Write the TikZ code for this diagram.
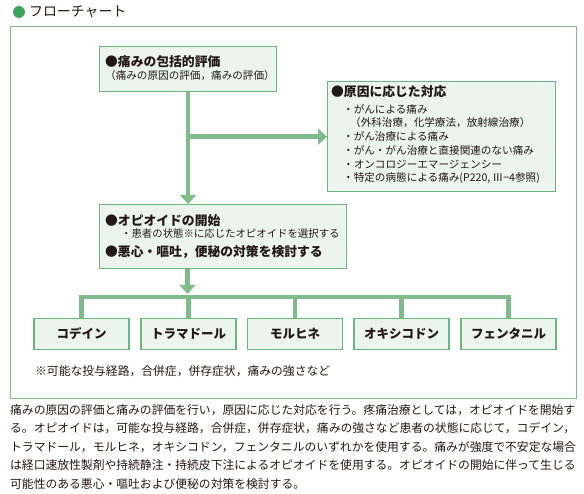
\documentclass[tikz,border=0pt]{standalone}
\usepackage{fontspec}
\setmainfont{Noto Sans CJK JP}
\usetikzlibrary{arrows.meta}
\definecolor{lgreen}{HTML}{80BC8B}
\definecolor{bgreen}{HTML}{6AB57B}
\definecolor{fgreen}{HTML}{EBF4ED}
\definecolor{dgreen}{HTML}{3FA45C}
\definecolor{ink}{HTML}{231815}
\newcommand{\fs}[1]{\fontsize{#1}{#1}\selectfont}

\begin{document}
\begin{tikzpicture}[x=1pt,y=-1pt,line width=.35pt,text=ink,
  box/.style={draw=bgreen,fill=fgreen,line width=1.3pt,inner sep=0pt},
  flow/.style={draw=lgreen,line width=4.5pt},
  tip/.style={-{Triangle[width=16pt,length=9pt]}},
  head/.style={anchor=west,inner sep=0pt,font=\fs{12.8}\bfseries},
  sub/.style={anchor=west,inner sep=0pt,font=\fs{10.6}},
  drug/.style={box,minimum width=95pt,minimum height=31pt,font=\fs{12.5}\bfseries},
  body/.style={anchor=west,inner sep=0pt,font=\fs{11.8}}]
\useasboundingbox (0,0) rectangle (584,494);
\node[circle,fill=dgreen,minimum size=12pt,inner sep=0pt] (dot) at (19,12) {};
\node[anchor=west,inner sep=0pt,font=\fs{13.9}] (title) at (29,12) {フローチャート};
\draw[lgreen,line width=1pt] (10,27) rectangle (576,399);
% boxes
\node[box,anchor=north west,minimum width=177pt,minimum height=45pt] (eval) at (99,46) {};
\node[box,anchor=north west,minimum width=228pt,minimum height=110pt] (cause) at (327,81) {};
\node[box,anchor=north west,minimum width=247pt,minimum height=64pt] (opioid) at (99,204) {};
\node[drug] (codeine) at (81.5,334) {コデイン};
\node[drug] (tramadol) at (188.5,334) {トラマドール};
\node[drug] (morphine) at (295,334) {モルヒネ};
\node[drug] (oxycodone) at (401.5,334) {オキシコドン};
\node[drug] (fentanyl) at (508.5,334) {フェンタニル};
% box texts
\node[head] (evalhead) at (105,62) {●痛みの包括的評価};
\node[sub] (evalsub) at (105,75.5) {（痛みの原因の評価，痛みの評価）};
\node[head] (causehead) at (331,92) {●原因に応じた対応};
\node[sub] (cause1) at (343,109) {・がんによる痛み};
\node[sub] (cause1b) at (350,122.8) {（外科治療，化学療法，放射線治療）};
\node[sub] (cause2) at (343,136.6) {・がん治療による痛み};
\node[sub] (cause3) at (343,150.4) {・がん・がん治療と直接関連のない痛み};
\node[sub] (cause4) at (343,164.2) {・オンコロジーエマージェンシー};
\node[sub] (cause5) at (343,178) {・特定の病態による痛み(P220, Ⅲ−4参照)};
\node[head] (opioidhead) at (105,221) {●オピオイドの開始};
\node[sub,font=\fs{10.4}] (opioidsub) at (121,233.5) {・患者の状態※に応じたオピオイドを選択する};
\node[head] (nausea) at (105,252) {●悪心・嘔吐，便秘の対策を検討する};
\node[body] (note) at (35,371) {※可能な投与経路，合併症，併存症状，痛みの強さなど};
% connectors
\coordinate (split) at (187.5,297);
\draw[flow,tip] (eval.south) -- (eval.south |- opioid.north);
\draw[flow,tip] (eval.south |- cause.west) -- (cause.west);
\draw[flow,tip] (split |- opioid.south) -- ([yshift=3pt]split);
\draw[flow] (codeine.north) -- (codeine.north |- split) -- (fentanyl.north |- split) -- (fentanyl.north);
\draw[flow] (tramadol.north) -- (tramadol.north |- split);
\draw[flow] (morphine.north) -- (morphine.north |- split);
\draw[flow] (oxycodone.north) -- (oxycodone.north |- split);
% text below
\node[body] (line1) at (10,410) {痛みの原因の評価と痛みの評価を行い，原因に応じた対応を行う。疼痛治療としては，オピオイドを開始す};
\node[body] (line2) at (10,428.5) {る。オピオイドは，可能な投与経路，合併症，併存症状，痛みの強さなど患者の状態に応じて，コデイン，};
\node[body] (line3) at (10,447) {トラマドール，モルヒネ，オキシコドン，フェンタニルのいずれかを使用する。痛みが強度で不安定な場合};
\node[body] (line4) at (10,465.5) {は経口速放性製剤や持続静注・持続皮下注によるオピオイドを使用する。オピオイドの開始に伴って生じる};
\node[body] (line5) at (10,484) {可能性のある悪心・嘔吐および便秘の対策を検討する。};
\end{tikzpicture}
\end{document}
